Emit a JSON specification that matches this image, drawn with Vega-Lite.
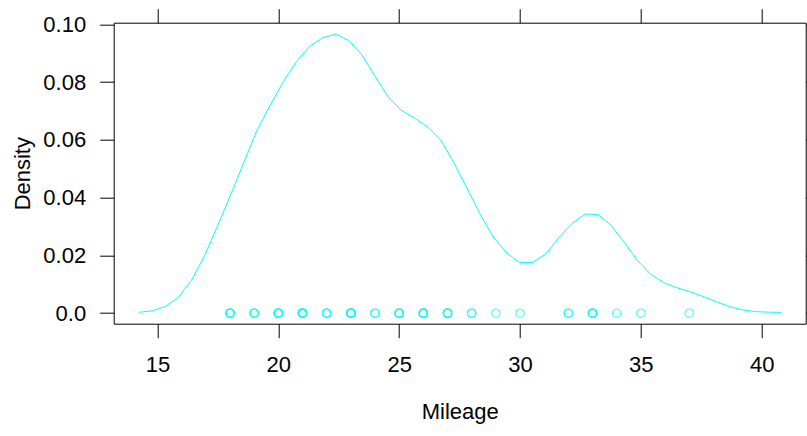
{
  "$schema": "https://vega.github.io/schema/vega-lite/v6.json",
  "autosize": "none",
  "width": 692,
  "height": 301,
  "padding": {"left": 113.7, "top": 22.7, "right": 1.3, "bottom": 112.3},
  "background": "white",
  "config": {
    "view": {"stroke": "black", "strokeWidth": 1},
    "font": "Liberation Sans",
    "axis": {"grid": false, "domain": false, "tickColor": "black", "tickWidth": 1, "tickSize": 14, "labelColor": "black", "titleColor": "black", "labelFont": "Liberation Sans", "titleFont": "Liberation Sans", "titleFontWeight": "normal"}
  },
  "datasets": {
    "dens": [
      {"Mileage": 14.24, "Density": 0.00031},
      {"Mileage": 14.78, "Density": 0.00083},
      {"Mileage": 15.33, "Density": 0.00232},
      {"Mileage": 15.87, "Density": 0.00554},
      {"Mileage": 16.41, "Density": 0.0115},
      {"Mileage": 16.95, "Density": 0.01998},
      {"Mileage": 17.5, "Density": 0.03054},
      {"Mileage": 18.04, "Density": 0.04127},
      {"Mileage": 18.58, "Density": 0.05235},
      {"Mileage": 19.12, "Density": 0.06343},
      {"Mileage": 19.67, "Density": 0.07209},
      {"Mileage": 20.21, "Density": 0.08023},
      {"Mileage": 20.75, "Density": 0.08715},
      {"Mileage": 21.29, "Density": 0.09235},
      {"Mileage": 21.84, "Density": 0.09539},
      {"Mileage": 22.38, "Density": 0.09668},
      {"Mileage": 22.92, "Density": 0.09443},
      {"Mileage": 23.46, "Density": 0.0894},
      {"Mileage": 24.01, "Density": 0.08196},
      {"Mileage": 24.55, "Density": 0.07486},
      {"Mileage": 25.09, "Density": 0.07019},
      {"Mileage": 25.63, "Density": 0.06759},
      {"Mileage": 26.18, "Density": 0.06447},
      {"Mileage": 26.72, "Density": 0.05997},
      {"Mileage": 27.26, "Density": 0.05218},
      {"Mileage": 27.81, "Density": 0.04318},
      {"Mileage": 28.35, "Density": 0.03435},
      {"Mileage": 28.89, "Density": 0.02639},
      {"Mileage": 29.43, "Density": 0.02102},
      {"Mileage": 29.98, "Density": 0.01756},
      {"Mileage": 30.52, "Density": 0.01756},
      {"Mileage": 31.06, "Density": 0.0205},
      {"Mileage": 31.6, "Density": 0.02604},
      {"Mileage": 32.15, "Density": 0.03106},
      {"Mileage": 32.69, "Density": 0.03435},
      {"Mileage": 33.23, "Density": 0.03418},
      {"Mileage": 33.77, "Density": 0.03037},
      {"Mileage": 34.32, "Density": 0.02448},
      {"Mileage": 34.86, "Density": 0.01825},
      {"Mileage": 35.4, "Density": 0.01357},
      {"Mileage": 35.94, "Density": 0.01063},
      {"Mileage": 36.49, "Density": 0.00883},
      {"Mileage": 37.03, "Density": 0.00744},
      {"Mileage": 37.57, "Density": 0.00578},
      {"Mileage": 38.11, "Density": 0.00405},
      {"Mileage": 38.66, "Density": 0.00232},
      {"Mileage": 39.2, "Density": 0.00118},
      {"Mileage": 39.74, "Density": 0.00055},
      {"Mileage": 40.28, "Density": 0.00035},
      {"Mileage": 40.83, "Density": 0.00028}
    ],
    "cars": [
      {"Mileage": 18}, {"Mileage": 18}, {"Mileage": 18}, {"Mileage": 18},
      {"Mileage": 19}, {"Mileage": 19}, {"Mileage": 19},
      {"Mileage": 20}, {"Mileage": 20}, {"Mileage": 20}, {"Mileage": 20}, {"Mileage": 20},
      {"Mileage": 21}, {"Mileage": 21}, {"Mileage": 21}, {"Mileage": 21}, {"Mileage": 21}, {"Mileage": 21}, {"Mileage": 21},
      {"Mileage": 22}, {"Mileage": 22}, {"Mileage": 22},
      {"Mileage": 23}, {"Mileage": 23}, {"Mileage": 23}, {"Mileage": 23}, {"Mileage": 23}, {"Mileage": 23}, {"Mileage": 23},
      {"Mileage": 24}, {"Mileage": 24},
      {"Mileage": 25}, {"Mileage": 25}, {"Mileage": 25}, {"Mileage": 25},
      {"Mileage": 26}, {"Mileage": 26}, {"Mileage": 26}, {"Mileage": 26}, {"Mileage": 26}, {"Mileage": 26},
      {"Mileage": 27}, {"Mileage": 27}, {"Mileage": 27}, {"Mileage": 27}, {"Mileage": 27},
      {"Mileage": 28}, {"Mileage": 28},
      {"Mileage": 29},
      {"Mileage": 30},
      {"Mileage": 32}, {"Mileage": 32},
      {"Mileage": 33}, {"Mileage": 33}, {"Mileage": 33}, {"Mileage": 33},
      {"Mileage": 34},
      {"Mileage": 35},
      {"Mileage": 37}
    ]
  },
  "layer": [
    {
      "data": {"name": "dens"},
      "mark": {"type": "line", "stroke": "#00ffff", "strokeWidth": 1, "clip": true},
      "encoding": {
        "x": {"field": "Mileage", "type": "quantitative",
              "scale": {"domain": [13.188, 41.821], "nice": false, "zero": false},
              "axis": {"orient": "bottom", "values": [15, 20, 25, 30, 35, 40], "labelFontSize": 22, "labelPadding": 17, "title": "Mileage", "titleFontSize": 22, "titlePadding": 26}},
        "y": {"field": "Density", "type": "quantitative",
              "scale": {"domain": [-0.00364, 0.10059], "nice": false, "zero": false},
              "axis": {"orient": "left", "values": [0, 0.02, 0.04, 0.06, 0.08, 0.1], "labelExpr": "datum.value == 0 ? '0.0' : format(datum.value, '.2f')", "labelFontSize": 22, "labelPadding": 14, "title": "Density", "titleFontSize": 22, "titlePadding": 8}}
      }
    },
    {
      "data": {"name": "cars"},
      "mark": {"type": "point", "shape": "circle", "filled": false, "stroke": "#00ffff", "strokeWidth": 1.2, "size": 70, "opacity": 0.7},
      "encoding": {
        "x": {"field": "Mileage", "type": "quantitative",
              "axis": {"orient": "top", "values": [15, 20, 25, 30, 35, 40], "labels": false, "title": null}},
        "y": {"datum": 0, "type": "quantitative",
              "axis": {"orient": "right", "values": [0, 0.02, 0.04, 0.06, 0.08, 0.1], "labels": false, "title": null}}
      }
    }
  ],
  "resolve": {"axis": {"x": "independent", "y": "independent"}}
}
